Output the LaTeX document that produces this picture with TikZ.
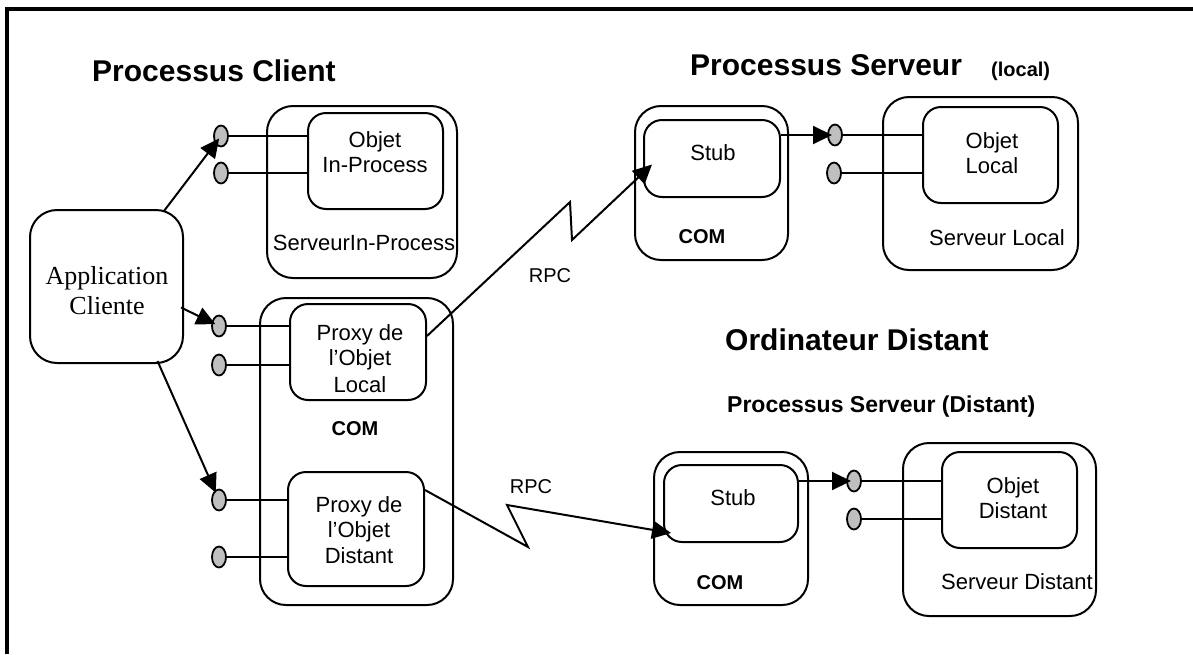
\documentclass[tikz,border=0pt]{standalone}
\usepackage{fontspec}
\setmainfont{Liberation Sans}
\newfontfamily\timesfont{Liberation Serif}
\usetikzlibrary{arrows.meta,shapes.geometric}

\begin{document}
\begin{tikzpicture}[x=1pt,y=-1pt,
  outerbox/.style={draw, line width=2pt, rounded corners=26pt, inner sep=0pt},
  innerbox/.style={draw, line width=2pt, rounded corners=18pt, inner sep=0pt},
  port/.style={ellipse, draw, line width=1.8pt, fill=black!25, minimum width=14pt, minimum height=21pt, inner sep=0pt},
  wire/.style={line width=1.8pt},
  arr/.style={line width=2pt, -{Triangle[length=19pt,width=18pt]}},
  lbl/.style={font=\fontsize{22}{26}\selectfont, inner sep=0pt, anchor=base},
  com/.style={font=\bfseries\fontsize{20}{24}\selectfont, inner sep=0pt, anchor=base},
  title/.style={font=\bfseries\fontsize{30}{36}\selectfont, inner sep=0pt, anchor=base west},
]
\useasboundingbox (0,0) rectangle (1193,654);

% page frame (top and left edges)
\draw[line width=4pt] (7,654) -- (7,8.5) -- (1193,8.5);

% titles
\node[title] (tclient) at (92,81) {Processus Client};
\node[title] (tserv) at (690,75) {Processus Serveur};
\node[font=\bfseries\fontsize{20}{22}\selectfont, inner sep=0pt, anchor=base west] (tlocal) at (991,76) {(local)};
\node[title] (tordi) at (725,350) {Ordinateur Distant};
\node[font=\bfseries\fontsize{23}{27}\selectfont, inner sep=0pt, anchor=base west] (tservd) at (727,412) {Processus Serveur (Distant)};

% client application
\node[outerbox, rounded corners=27pt, minimum width=153pt, minimum height=153pt] (app) at (106.5,286.5) {};
\node[font=\timesfont\fontsize{26}{30}\selectfont, inner sep=0pt, anchor=base] (tapp1) at (107,284) {Application};
\node[font=\timesfont\fontsize{26}{30}\selectfont, inner sep=0pt, anchor=base] (tapp2) at (107,314) {Cliente};

% in-process server
\node[outerbox, minimum width=190pt, minimum height=172pt] (inproc) at (362,192) {};
\node[innerbox, minimum width=135pt, minimum height=96pt] (oin) at (375.5,161) {};
\node[lbl] (toin1) at (375,147) {Objet};
\node[lbl] (toin2) at (375,172) {In-Process};
\node[lbl] (tinproc) at (364,250) {ServeurIn-Process};

% proxies inside COM
\node[outerbox, minimum width=193pt, minimum height=307pt] (pcom) at (356.5,451.5) {};
\node[innerbox, minimum width=136pt, minimum height=96pt] (pli) at (358,352) {};
\node[innerbox, minimum width=136pt, minimum height=114pt] (pdi) at (356,529) {};
\node[lbl] (tpl1) at (360,340) {Proxy de};
\node[lbl] (tpl2) at (360,365) {l’Objet};
\node[lbl] (tpl3) at (360,392) {Local};
\node[com] (tpcom) at (355,435) {COM};
\node[lbl] (tpd1) at (359,512) {Proxy de};
\node[lbl] (tpd2) at (359,537) {l’Objet};
\node[lbl] (tpd3) at (359,563) {Distant};

% local server process
\node[outerbox, minimum width=153pt, minimum height=154pt] (slo) at (711.5,183) {};
\node[innerbox, minimum width=136pt, minimum height=77pt] (sli) at (712,158.5) {};
\node[lbl] (tsl) at (713,160) {Stub};
\node[com] (tslcom) at (702,243) {COM};
\node[outerbox, minimum width=195pt, minimum height=173pt] (srvl) at (980.5,183.5) {};
\node[innerbox, minimum width=135pt, minimum height=96pt] (olo) at (990.5,155) {};
\node[lbl] (tolo1) at (992,148) {Objet};
\node[lbl] (tolo2) at (992,173) {Local};
\node[lbl] (tsrvl) at (997,245) {Serveur Local};

% remote server process
\node[outerbox, minimum width=154pt, minimum height=153pt] (sdo) at (731,528.5) {};
\node[innerbox, minimum width=134pt, minimum height=77pt] (sdi) at (731,503.5) {};
\node[lbl] (tsd) at (733,505) {Stub};
\node[com] (tsdcom) at (720,589) {COM};
\node[outerbox, minimum width=193pt, minimum height=173pt] (srvd) at (999.5,529.5) {};
\node[innerbox, minimum width=135pt, minimum height=96pt] (odi) at (1009.5,500) {};
\node[lbl] (todi1) at (1013,493) {Objet};
\node[lbl] (todi2) at (1013,518) {Distant};
\node[lbl] (tsrvd) at (1017,589) {Serveur Distant};

% RPC labels
\node[lbl, font=\fontsize{20}{24}\selectfont] (rpc1) at (550,282) {RPC};
\node[lbl, font=\fontsize{20}{24}\selectfont] (rpc2) at (531,493) {RPC};

% interface ports
\node[port] (e1) at (221,136) {};
\node[port] (e2) at (221,173) {};
\node[port] (e3) at (219,326) {};
\node[port] (e4) at (219,365) {};
\node[port] (e5) at (219,500) {};
\node[port] (e6) at (219,557) {};
\node[port] (e7) at (835,135) {};
\node[port] (e8) at (834,173) {};
\node[port] (e9) at (854,481) {};
\node[port] (e10) at (854,519) {};

% port stems
\draw[wire] (e1.east) -- (e1.east -| oin.west);
\draw[wire] (e2.east) -- (e2.east -| oin.west);
\draw[wire] (e3.east) -- (e3.east -| pli.west);
\draw[wire] (e4.east) -- (e4.east -| pli.west);
\draw[wire] (e5.east) -- (e5.east -| pdi.west);
\draw[wire] (e6.east) -- (e6.east -| pdi.west);
\draw[wire] (e7.east) -- (e7.east -| olo.west);
\draw[wire] (e8.east) -- (e8.east -| olo.west);
\draw[wire] (e9.east) -- (e9.east -| odi.west);
\draw[wire] (e10.east) -- (e10.east -| odi.west);

% client calls
\draw[arr, shorten >=3pt] ([shift={(-20,2)}]app.north east) -- (e1.center);
\draw[arr, shorten >=4pt] ([shift={(-3,21)}]app.east) -- (e3.center);
\draw[arr, shorten >=8pt] ([shift={(51,-3)}]app.south) -- (e5.center);

% stub to object calls
\draw[arr, shorten >=3pt] (e7 -| sli.east) -- (e7.center);
\draw[arr, shorten >=3pt] (e9 -| sdi.east) -- (e9.center);

% RPC links
\coordinate (z1a) at (570,202);
\coordinate (z1b) at (572,240);
\coordinate (z2a) at (528,547);
\coordinate (z2b) at (507,505);
\draw[arr] ([shift={(0,-16)}]pli.east) -- (z1a) -- (z1b) -- ([shift={(9,6)}]sli.west);
\draw[arr] ([shift={(0,-39)}]pdi.east) -- (z2a) -- (z2b) -- ([shift={(8,-10)}]sdi.south west);
\end{tikzpicture}
\end{document}
